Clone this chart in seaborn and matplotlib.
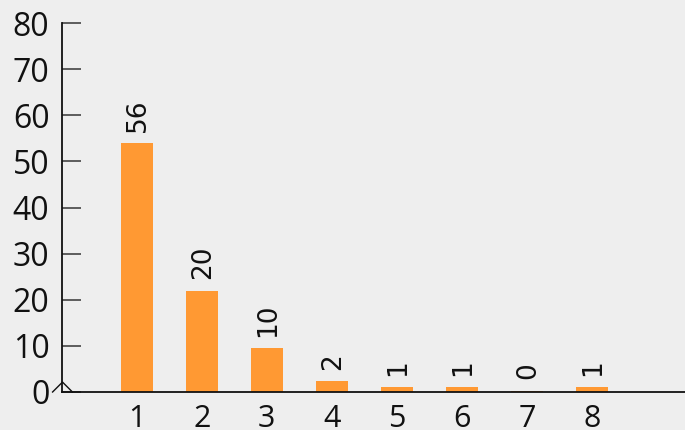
import matplotlib
matplotlib.use("Agg")
import matplotlib.pyplot as plt
import pandas as pd
import seaborn as sns

categories = ["1", "2", "3", "4", "5", "6", "7", "8"]
bar_heights = [54, 22, 9.5, 2.4, 1.1, 1.1, 0.3, 1.1]
bar_labels = ["56", "20", "10", "2", "1", "1", "0", "1"]
y_ticks = [0, 10, 20, 30, 40, 50, 60, 70, 80]

BG = "#eeeeee"
ORANGE = "#ff9933"

sns.set_style("white")
plt.rcParams["font.family"] = ["Open Sans", "DejaVu Sans"]

df = pd.DataFrame({"cat": categories, "value": bar_heights, "label": bar_labels})

fig = plt.figure(figsize=(6.85, 4.3), dpi=100, facecolor=BG)
ax = fig.add_axes([0.0905, 0.0884, 0.9095, 0.858])
ax.set_facecolor(BG)

sns.barplot(data=df, x="cat", y="value", color=ORANGE, width=0.5,
            saturation=1, linewidth=0, edgecolor="none", ax=ax)

for i, row in df.iterrows():
    ax.annotate(row["label"], (i, row["value"]), xytext=(1, 8),
                textcoords="offset points", rotation=90, ha="center",
                va="bottom", fontsize=19, color="#111111",
                family="DejaVu Sans")

ax.set_ylim(0, 80)
ax.set_xlim(-1.15, 8.43)
ax.set_yticks(y_ticks)
ax.set_xlabel("")
ax.set_ylabel("")

ax.tick_params(axis="y", left=True, direction="in", length=14, width=1.2,
               color="#444444", labelsize=23, pad=9, labelcolor="#111111")
ax.tick_params(axis="x", bottom=False, length=0, labelsize=22, pad=9,
               labelcolor="#111111")

for side in ["top", "right"]:
    ax.spines[side].set_visible(False)
for side in ["left", "bottom"]:
    ax.spines[side].set_color("#111111")
    ax.spines[side].set_linewidth(1.3)

# small caret at the origin
ax.plot([0], [0], transform=ax.transAxes, clip_on=False,
        marker=[(-1, 0), (0, 1), (1, 0)], markersize=15,
        markerfacecolor="none", markeredgecolor="#111111", markeredgewidth=1.0)

fig.savefig("out.png", dpi=100, facecolor=BG)
